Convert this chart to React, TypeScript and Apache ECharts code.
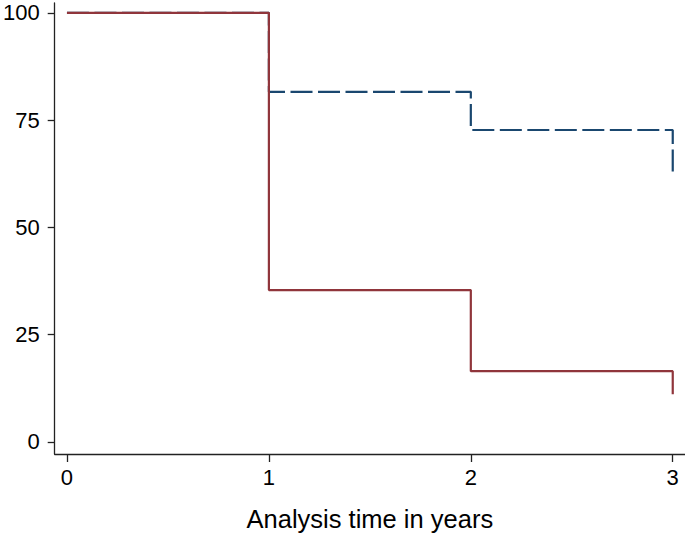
import React, { useEffect, useRef } from "react";
import * as echarts from "echarts";

const xTicks = [0, 1, 2, 3];
const yTicks = [0, 25, 50, 75, 100];
const groupA = [
  [0, 100],
  [1, 81.6],
  [2, 72.7],
  [3, 62.2],
];
const groupB = [
  [0, 100],
  [1, 35.4],
  [2, 16.5],
  [3, 11.1],
];
const xTitle = "Analysis time in years";

const FONT = '"Liberation Sans", Arial, Helvetica, sans-serif';

export default function App() {
  const ref = useRef<HTMLDivElement>(null);
  useEffect(() => {
    if (!ref.current) return;
    const chart = echarts.init(ref.current, undefined, { renderer: "svg" });
    const axisLine = { show: true, lineStyle: { color: "#222", width: 1.3 } };
    chart.setOption({
      animation: false,
      backgroundColor: "#fff",
      grid: { left: 52, right: 0, top: 3, bottom: 85, containLabel: false },
      xAxis: {
        type: "value",
        min: -0.0607,
        max: 3.0607,
        axisLine: { ...axisLine, onZero: false },
        axisTick: { show: true, length: 8, lineStyle: { color: "#222", width: 1.3 }, customValues: xTicks },
        axisLabel: { customValues: xTicks, fontSize: 22, color: "#000", fontFamily: FONT, margin: 12 },
        splitLine: { show: false },
        name: xTitle,
        nameLocation: "middle",
        nameGap: 52,
        nameTextStyle: { fontSize: 25.5, color: "#000", fontFamily: FONT },
      },
      yAxis: {
        type: "value",
        min: -2.8,
        max: 102.3,
        axisLine: { ...axisLine, onZero: false },
        axisTick: { show: true, length: 7, lineStyle: { color: "#222", width: 1.3 }, customValues: yTicks },
        axisLabel: { customValues: yTicks, fontSize: 22, color: "#000", fontFamily: FONT, margin: 15 },
        splitLine: { show: false },
      },
      series: [
        {
          type: "line",
          step: "end",
          data: groupA,
          showSymbol: false,
          symbol: "none",
          lineStyle: { color: "#1a476f", width: 2.2, type: [22, 5.5] },
        },
        {
          type: "line",
          step: "end",
          data: groupB,
          showSymbol: false,
          symbol: "none",
          lineStyle: { color: "#90353b", width: 2.2 },
        },
      ],
    });
    return () => chart.dispose();
  }, []);
  return (
    <div
      ref={ref}
      style={{ position: "absolute", left: 0, top: 0, width: 685, height: 539 }}
    />
  );
}
